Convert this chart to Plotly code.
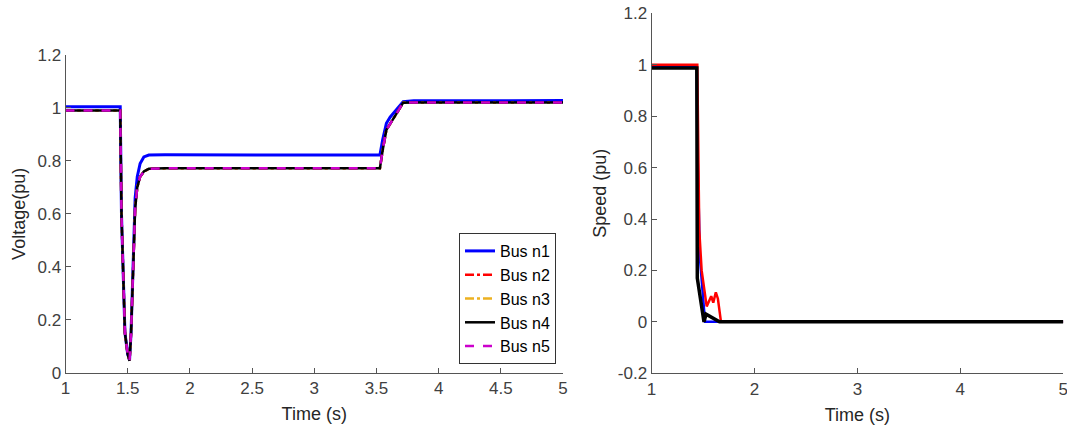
import plotly.graph_objects as go

# ---------------- Voltage data (left) ----------------
t_volt = [1.0, 1.44, 1.45, 1.465, 1.478, 1.50, 1.515, 1.527, 1.54, 1.55, 1.56, 1.577, 1.60, 1.63, 1.67, 1.80,
          3.50, 3.528, 3.55, 3.58, 3.61, 3.635, 3.67, 3.715, 3.80, 5.0]
v_bus1 = [1.005, 1.005, 0.60, 0.35, 0.15, 0.07, 0.048, 0.15, 0.35, 0.55, 0.66, 0.74, 0.79, 0.815, 0.822, 0.823,
          0.822, 0.822, 0.88, 0.942, 0.965, 0.98, 1.0, 1.024, 1.027, 1.028]
v_bus2 = [0.99, 0.99, 0.60, 0.35, 0.15, 0.07, 0.045, 0.15, 0.35, 0.53, 0.62, 0.70, 0.74, 0.76, 0.77, 0.772,
          0.772, 0.772, 0.84, 0.917, 0.94, 0.961, 0.985, 1.02, 1.021, 1.021]
v_bus3 = [0.99, 0.99, 0.60, 0.35, 0.15, 0.07, 0.045, 0.15, 0.35, 0.53, 0.62, 0.70, 0.74, 0.76, 0.77, 0.772,
          0.772, 0.772, 0.84, 0.917, 0.94, 0.961, 0.985, 1.02, 1.021, 1.021]
v_bus4 = [0.99, 0.99, 0.60, 0.35, 0.15, 0.07, 0.045, 0.15, 0.35, 0.53, 0.62, 0.70, 0.74, 0.76, 0.77, 0.772,
          0.772, 0.772, 0.84, 0.917, 0.94, 0.961, 0.985, 1.02, 1.021, 1.021]
v_bus5 = [0.99, 0.99, 0.60, 0.35, 0.15, 0.07, 0.045, 0.15, 0.35, 0.53, 0.62, 0.70, 0.74, 0.76, 0.77, 0.772,
          0.772, 0.772, 0.84, 0.917, 0.94, 0.961, 0.985, 1.02, 1.021, 1.021]

# ---------------- Speed data (right) ----------------
t_speed_blue = [1.0, 1.44, 1.445, 1.47, 1.50, 1.52, 5.0]
s_blue = [0.99, 0.99, 0.70, 0.25, 0.10, 0.0, 0.0]
t_speed_red = [1.0, 1.445, 1.464, 1.487, 1.536, 1.58, 1.60, 1.625, 1.645, 1.675, 5.0]
s_red = [1.0, 1.0, 0.357, 0.20, 0.06, 0.10, 0.075, 0.115, 0.09, 0.0, 0.0]
t_speed_black = [1.0, 1.44, 1.445, 1.51, 1.53, 1.66, 5.0]
s_black = [0.987, 0.987, 0.17, 0.0, 0.03, 0.0, 0.0]

# ---------------- Ticks ----------------
x1_ticks = [1, 1.5, 2, 2.5, 3, 3.5, 4, 4.5, 5]
x1_text = ["1", "1.5", "2", "2.5", "3", "3.5", "4", "4.5", "5"]
y1_ticks = [0, 0.2, 0.4, 0.6, 0.8, 1.0, 1.2]
y1_text = ["0", "0.2", "0.4", "0.6", "0.8", "1", "1.2"]
x2_ticks = [1, 2, 3, 4, 5]
x2_text = ["1", "2", "3", "4", "5"]
y2_ticks = [-0.2, 0, 0.2, 0.4, 0.6, 0.8, 1.0, 1.2]
y2_text = ["-0.2", "0", "0.2", "0.4", "0.6", "0.8", "1", "1.2"]

names = ["Bus n1", "Bus n2", "Bus n3", "Bus n4", "Bus n5"]
colors = ["#0000FF", "#FF0000", "#EDB120", "#000000", "#CC00CC"]
dashes = ["solid", "dashdot", "dashdot", "solid", "dash"]
widths = [3, 2.5, 2.5, 2.5, 2.5]

fig = go.Figure()
volts = [v_bus1, v_bus2, v_bus3, v_bus4, v_bus5]
for name, ys, c, d, w in zip(names, volts, colors, dashes, widths):
    fig.add_trace(go.Scatter(x=t_volt, y=ys, mode="lines", name=name,
                             line=dict(color=c, dash=d, width=w),
                             xaxis="x", yaxis="y"))

fig.add_trace(go.Scatter(x=t_speed_blue, y=s_blue, mode="lines", showlegend=False,
                         line=dict(color="#0000FF", width=2.5), xaxis="x2", yaxis="y2"))
fig.add_trace(go.Scatter(x=t_speed_red, y=s_red, mode="lines", showlegend=False,
                         line=dict(color="#FF0000", width=2.5), xaxis="x2", yaxis="y2"))
fig.add_trace(go.Scatter(x=t_speed_black, y=s_black, mode="lines", showlegend=False,
                         line=dict(color="#000000", width=3.5), xaxis="x2", yaxis="y2"))

axcol = "#555555"
FONT = "Liberation Sans, Arial, sans-serif"
tickfont = dict(family=FONT, size=17, color="#404040")
titlefont = dict(family=FONT, size=18, color="#262626")

common = dict(showline=True, linecolor=axcol, linewidth=1, ticks="inside", ticklen=5,
              tickcolor=axcol, showgrid=False, zeroline=False, tickfont=tickfont,
              mirror=False, automargin=False, tickmode="array", ticklabeloverflow="allow")

fig.update_layout(
    width=1067, height=430,
    margin=dict(l=0, r=0, t=0, b=0),
    paper_bgcolor="white", plot_bgcolor="white",
    xaxis=dict(domain=[65.5/1067, 563/1067], range=[1, 5], tickvals=x1_ticks, ticktext=x1_text,
               title=dict(text="Time (s)", font=titlefont, standoff=10), anchor="y", **common),
    yaxis=dict(domain=[1-372.7/430, 1-55/430], range=[0, 1.2], tickvals=y1_ticks, ticktext=y1_text,
               title=dict(text="Voltage(pu)", font=titlefont, standoff=7), anchor="x", **common),
    xaxis2=dict(domain=[651.5/1067, 1063.3/1067], range=[1, 5], tickvals=x2_ticks, ticktext=x2_text,
                title=dict(text="Time (s)", font=titlefont, standoff=10), anchor="y2", **common),
    yaxis2=dict(domain=[1-373.3/430, 1-13.3/430], range=[-0.2, 1.2], tickvals=y2_ticks, ticktext=y2_text,
                title=dict(text="Speed (pu)", font=titlefont, standoff=6), anchor="x2", **common),
    legend=dict(x=459/1067, y=1-233/430, xanchor="left", yanchor="top",
                bgcolor="white", bordercolor="#333333", borderwidth=1,
                font=dict(family=FONT, size=16, color="#000000"),
                tracegroupgap=0),
    showlegend=True,
)

fig.write_html("out.html")
